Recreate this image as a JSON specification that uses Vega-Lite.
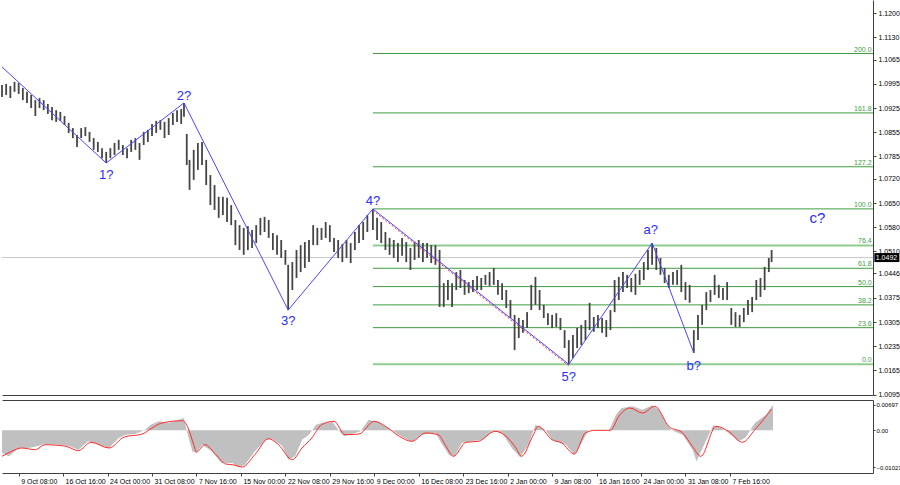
{
  "$schema": "https://vega.github.io/schema/vega-lite/v6.json",
  "padding": 0,
  "background": "white",
  "spacing": 2,
  "config": {
    "view": {"stroke": null},
    "font": "Liberation Sans",
    "axis": {"labelFont": "Liberation Sans", "labelFontSize": 7, "labelColor": "#000000", "domainColor": "#404040", "tickColor": "#404040", "grid": false}
  },
  "datasets": {
    "bars": [
      {"b":0,"l":1.0957,"h":1.0992},{"b":3,"l":1.0963,"h":1.0995},{"b":6,"l":1.0954,"h":1.0989},{"b":9,"l":1.0972,"h":1.1001},
      {"b":12,"l":1.0966,"h":1.0998},{"b":15,"l":1.0948,"h":1.0983},{"b":18,"l":1.0940,"h":1.0972},{"b":21,"l":1.0925,"h":1.0963},
      {"b":24,"l":1.0902,"h":1.0948},{"b":27,"l":1.0925,"h":1.0954},{"b":30,"l":1.0919,"h":1.0948},{"b":33,"l":1.0908,"h":1.0937},
      {"b":36,"l":1.0890,"h":1.0928},{"b":39,"l":1.0885,"h":1.0919},{"b":42,"l":1.0888,"h":1.0914},{"b":45,"l":1.0876,"h":1.0902},
      {"b":48,"l":1.0853,"h":1.0882},{"b":51,"l":1.0838,"h":1.0867},{"b":54,"l":1.0812,"h":1.0847},{"b":57,"l":1.0838,"h":1.0867},
      {"b":60,"l":1.0844,"h":1.0870},{"b":63,"l":1.0827,"h":1.0856},{"b":66,"l":1.0804,"h":1.0838},{"b":69,"l":1.0798,"h":1.0827},
      {"b":72,"l":1.0780,"h":1.0809},{"b":75,"l":1.0766,"h":1.0798},{"b":78,"l":1.0780,"h":1.0809},{"b":81,"l":1.0789,"h":1.0824},
      {"b":84,"l":1.0804,"h":1.0833},{"b":87,"l":1.0789,"h":1.0818},{"b":90,"l":1.0780,"h":1.0809},{"b":93,"l":1.0798,"h":1.0833},
      {"b":96,"l":1.0804,"h":1.0838},{"b":99,"l":1.0775,"h":1.0824},{"b":102,"l":1.0818,"h":1.0856},{"b":105,"l":1.0827,"h":1.0862},
      {"b":108,"l":1.0844,"h":1.0879},{"b":111,"l":1.0853,"h":1.0888},{"b":114,"l":1.0862,"h":1.0890},{"b":117,"l":1.0838,"h":1.0885},
      {"b":120,"l":1.0847,"h":1.0896},{"b":123,"l":1.0876,"h":1.0911},{"b":126,"l":1.0885,"h":1.0919},{"b":129,"l":1.0879,"h":1.0922},
      {"b":131,"l":1.0900,"h":1.0940},{"b":133,"l":1.0760,"h":1.0850},{"b":135,"l":1.0688,"h":1.0775},{"b":138,"l":1.0717,"h":1.0804},
      {"b":141,"l":1.0746,"h":1.0824},{"b":144,"l":1.0760,"h":1.0827},{"b":147,"l":1.0702,"h":1.0775},{"b":150,"l":1.0644,"h":1.0731},
      {"b":153,"l":1.0630,"h":1.0702},{"b":156,"l":1.0607,"h":1.0668},{"b":159,"l":1.0615,"h":1.0668},{"b":162,"l":1.0595,"h":1.0665},
      {"b":165,"l":1.0586,"h":1.0644},{"b":168,"l":1.0528,"h":1.0601},{"b":171,"l":1.0514,"h":1.0586},{"b":174,"l":1.0500,"h":1.0578},
      {"b":177,"l":1.0514,"h":1.0583},{"b":180,"l":1.0520,"h":1.0572},{"b":183,"l":1.0534,"h":1.0586},{"b":186,"l":1.0557,"h":1.0607},
      {"b":189,"l":1.0566,"h":1.0610},{"b":192,"l":1.0549,"h":1.0601},{"b":195,"l":1.0514,"h":1.0563},{"b":198,"l":1.0500,"h":1.0557},
      {"b":201,"l":1.0491,"h":1.0543},{"b":204,"l":1.0471,"h":1.0514},{"b":206,"l":1.0340,"h":1.0471},{"b":209,"l":1.0398,"h":1.0479},
      {"b":212,"l":1.0433,"h":1.0514},{"b":215,"l":1.0450,"h":1.0528},{"b":218,"l":1.0462,"h":1.0537},{"b":221,"l":1.0479,"h":1.0543},
      {"b":224,"l":1.0528,"h":1.0586},{"b":227,"l":1.0528,"h":1.0578},{"b":230,"l":1.0543,"h":1.0578},{"b":233,"l":1.0549,"h":1.0595},
      {"b":236,"l":1.0537,"h":1.0586},{"b":239,"l":1.0508,"h":1.0549},{"b":242,"l":1.0491,"h":1.0543},{"b":245,"l":1.0479,"h":1.0531},
      {"b":248,"l":1.0491,"h":1.0543},{"b":251,"l":1.0476,"h":1.0534},{"b":254,"l":1.0514,"h":1.0566},{"b":257,"l":1.0534,"h":1.0586},
      {"b":260,"l":1.0543,"h":1.0595},{"b":263,"l":1.0566,"h":1.0615},{"b":267,"l":1.0572,"h":1.0633},{"b":270,"l":1.0543,"h":1.0607},
      {"b":273,"l":1.0534,"h":1.0595},{"b":276,"l":1.0514,"h":1.0566},{"b":279,"l":1.0500,"h":1.0549},{"b":282,"l":1.0491,"h":1.0543},
      {"b":285,"l":1.0479,"h":1.0534},{"b":288,"l":1.0497,"h":1.0549},{"b":291,"l":1.0479,"h":1.0537},{"b":294,"l":1.0456,"h":1.0520},
      {"b":297,"l":1.0485,"h":1.0537},{"b":300,"l":1.0491,"h":1.0543},{"b":303,"l":1.0479,"h":1.0534},{"b":306,"l":1.0491,"h":1.0534},
      {"b":309,"l":1.0476,"h":1.0528},{"b":312,"l":1.0471,"h":1.0528},{"b":315,"l":1.0349,"h":1.0514},{"b":318,"l":1.0349,"h":1.0418},
      {"b":321,"l":1.0369,"h":1.0427},{"b":324,"l":1.0349,"h":1.0418},{"b":327,"l":1.0398,"h":1.0450},{"b":330,"l":1.0404,"h":1.0456},
      {"b":333,"l":1.0384,"h":1.0427},{"b":336,"l":1.0389,"h":1.0421},{"b":339,"l":1.0392,"h":1.0427},{"b":342,"l":1.0398,"h":1.0439},
      {"b":345,"l":1.0398,"h":1.0433},{"b":348,"l":1.0413,"h":1.0442},{"b":351,"l":1.0410,"h":1.0450},{"b":354,"l":1.0413,"h":1.0462},
      {"b":357,"l":1.0384,"h":1.0427},{"b":360,"l":1.0369,"h":1.0418},{"b":363,"l":1.0346,"h":1.0398},{"b":366,"l":1.0317,"h":1.0369},
      {"b":369,"l":1.0224,"h":1.0326},{"b":372,"l":1.0259,"h":1.0317},{"b":375,"l":1.0274,"h":1.0311},{"b":378,"l":1.0288,"h":1.0334},
      {"b":381,"l":1.0340,"h":1.0413},{"b":384,"l":1.0355,"h":1.0436},{"b":387,"l":1.0340,"h":1.0398},{"b":390,"l":1.0317,"h":1.0355},
      {"b":393,"l":1.0297,"h":1.0331},{"b":396,"l":1.0288,"h":1.0326},{"b":399,"l":1.0291,"h":1.0331},{"b":402,"l":1.0282,"h":1.0317},
      {"b":405,"l":1.0230,"h":1.0282},{"b":408,"l":1.0183,"h":1.0253},{"b":411,"l":1.0201,"h":1.0268},{"b":414,"l":1.0230,"h":1.0288},
      {"b":417,"l":1.0239,"h":1.0297},{"b":420,"l":1.0253,"h":1.0311},{"b":423,"l":1.0282,"h":1.0361},{"b":426,"l":1.0277,"h":1.0320},
      {"b":429,"l":1.0288,"h":1.0326},{"b":432,"l":1.0274,"h":1.0317},{"b":435,"l":1.0262,"h":1.0311},{"b":438,"l":1.0282,"h":1.0340},
      {"b":441,"l":1.0334,"h":1.0427},{"b":444,"l":1.0369,"h":1.0436},{"b":447,"l":1.0392,"h":1.0450},{"b":450,"l":1.0404,"h":1.0442},
      {"b":453,"l":1.0392,"h":1.0433},{"b":456,"l":1.0384,"h":1.0445},{"b":459,"l":1.0413,"h":1.0456},{"b":462,"l":1.0427,"h":1.0479},
      {"b":465,"l":1.0456,"h":1.0514},{"b":468,"l":1.0471,"h":1.0534},{"b":471,"l":1.0456,"h":1.0520},{"b":474,"l":1.0442,"h":1.0491},
      {"b":477,"l":1.0418,"h":1.0462},{"b":480,"l":1.0404,"h":1.0442},{"b":483,"l":1.0413,"h":1.0450},{"b":486,"l":1.0413,"h":1.0456},
      {"b":489,"l":1.0392,"h":1.0471},{"b":492,"l":1.0369,"h":1.0421},{"b":495,"l":1.0361,"h":1.0413},{"b":498,"l":1.0216,"h":1.0282},
      {"b":501,"l":1.0253,"h":1.0326},{"b":504,"l":1.0297,"h":1.0355},{"b":507,"l":1.0340,"h":1.0392},{"b":510,"l":1.0363,"h":1.0398},
      {"b":513,"l":1.0384,"h":1.0442},{"b":516,"l":1.0375,"h":1.0413},{"b":519,"l":1.0369,"h":1.0404},{"b":522,"l":1.0369,"h":1.0421},
      {"b":525,"l":1.0297,"h":1.0346},{"b":528,"l":1.0291,"h":1.0334},{"b":531,"l":1.0291,"h":1.0326},{"b":534,"l":1.0305,"h":1.0346},
      {"b":537,"l":1.0326,"h":1.0369},{"b":540,"l":1.0334,"h":1.0378},{"b":543,"l":1.0369,"h":1.0427},{"b":546,"l":1.0378,"h":1.0433},
      {"b":549,"l":1.0398,"h":1.0465},{"b":552,"l":1.0450,"h":1.0491},{"b":554,"l":1.0479,"h":1.0514}
    ],
    "waves": [
      {"b":0,"p":1.1044},{"b":75,"p":1.0766},{"b":131,"p":1.0940},{"b":206,"p":1.0340},
      {"b":267,"p":1.0633},{"b":408,"p":1.0183},{"b":468,"p":1.0534},{"b":498,"p":1.0216}
    ],
    "wavelabels": [
      {"t":"1?","b":75,"p":1.0731},{"t":"2?","b":131,"p":1.0960},{"t":"3?","b":206,"p":1.0308},{"t":"4?","b":267,"p":1.0656},
      {"t":"5?","b":408,"p":1.0146},{"t":"a?","b":467,"p":1.0572},{"t":"b?","b":498,"p":1.0178},{"t":"c?","b":587,"p":1.0607}
    ],
    "fib": [
      {"lvl":"0.0","p":1.0183},{"lvl":"23.6","p":1.0289},{"lvl":"38.2","p":1.0355},{"lvl":"50.0","p":1.0408},
      {"lvl":"61.8","p":1.0461},{"lvl":"76.4","p":1.0527},{"lvl":"100.0","p":1.0633},{"lvl":"127.2","p":1.0755},
      {"lvl":"161.8","p":1.0911},{"lvl":"200.0","p":1.1083}
    ],
    "hist": [
      {"b":0,"m":-0.00625},{"b":5,"m":-0.00716},{"b":12,"m":-0.00487},{"b":19,"m":-0.00487},{"b":26,"m":-0.00432},{"b":31,"m":-0.00377},
      {"b":41,"m":-0.00396},{"b":48,"m":-0.00432},{"b":55,"m":-0.00534},{"b":62,"m":-0.00303},{"b":70,"m":-0.00396},{"b":77,"m":-0.00487},
      {"b":84,"m":-0.00212},{"b":89,"m":-0.00121},{"b":96,"m":-0.00102},{"b":103,"m":0.00017},{"b":107,"m":0.00154},{"b":113,"m":0.00248},
      {"b":120,"m":0.00201},{"b":125,"m":0.00264},{"b":131,"m":0.00338},{"b":133,"m":-0.00019},{"b":137,"m":-0.00578},{"b":140,"m":-0.00625},
      {"b":144,"m":-0.00396},{"b":151,"m":-0.00578},{"b":158,"m":-0.00900},{"b":166,"m":-0.00900},{"b":170,"m":-0.01023},{"b":175,"m":-0.00947},
      {"b":182,"m":-0.00578},{"b":190,"m":-0.00259},{"b":194,"m":-0.00231},{"b":202,"m":-0.00440},{"b":206,"m":-0.00809},{"b":211,"m":-0.00716},
      {"b":216,"m":-0.00259},{"b":221,"m":-0.00121},{"b":226,"m":0.00154},{"b":230,"m":0.00201},{"b":238,"m":0.00228},{"b":242,"m":0.00017},
      {"b":246,"m":-0.00165},{"b":252,"m":-0.00102},{"b":258,"m":-0.00028},{"b":264,"m":0.00292},{"b":271,"m":0.00228},{"b":278,"m":0.00063},
      {"b":286,"m":-0.00138},{"b":295,"m":-0.00322},{"b":302,"m":-0.00121},{"b":312,"m":-0.00074},{"b":317,"m":-0.00396},{"b":322,"m":-0.00688},
      {"b":326,"m":-0.00716},{"b":331,"m":-0.00350},{"b":338,"m":-0.00303},{"b":346,"m":-0.00259},{"b":353,"m":-0.00028},{"b":360,"m":-0.00074},
      {"b":367,"m":-0.00487},{"b":373,"m":-0.00743},{"b":379,"m":-0.00396},{"b":384,"m":0.00154},{"b":391,"m":0.00017},{"b":396,"m":-0.00259},
      {"b":406,"m":-0.00396},{"b":412,"m":-0.00671},{"b":418,"m":-0.00303},{"b":422,"m":0.0},{"b":437,"m":0.0},{"b":442,"m":0.00429},
      {"b":446,"m":0.00614},{"b":454,"m":0.00660},{"b":461,"m":0.00567},{"b":468,"m":0.00688},{"b":473,"m":0.00567},{"b":478,"m":0.00201},
      {"b":482,"m":0.0},{"b":490,"m":-0.00121},{"b":497,"m":-0.00534},{"b":500,"m":-0.00853},{"b":506,"m":-0.00350},{"b":512,"m":0.00138},
      {"b":518,"m":0.00063},{"b":526,"m":-0.00165},{"b":530,"m":-0.00303},{"b":535,"m":-0.00212},{"b":542,"m":0.00201},{"b":550,"m":0.00429},
      {"b":555,"m":0.00697}
    ],
    "sig": [
      {"b":0,"s":-0.00716},{"b":7,"s":-0.00578},{"b":14,"s":-0.00487},{"b":24,"s":-0.00534},{"b":31,"s":-0.00396},{"b":46,"s":-0.00440},
      {"b":55,"s":-0.00561},{"b":64,"s":-0.00330},{"b":77,"s":-0.00487},{"b":88,"s":-0.00184},{"b":101,"s":-0.00102},{"b":108,"s":0.00063},
      {"b":115,"s":0.00201},{"b":130,"s":0.00264},{"b":134,"s":0.00063},{"b":138,"s":-0.00396},{"b":140,"s":-0.00597},{"b":146,"s":-0.00396},
      {"b":154,"s":-0.00671},{"b":161,"s":-0.00927},{"b":166,"s":-0.00947},{"b":173,"s":-0.01010},{"b":182,"s":-0.00671},{"b":192,"s":-0.00231},
      {"b":199,"s":-0.00396},{"b":209,"s":-0.00809},{"b":216,"s":-0.00487},{"b":223,"s":-0.00212},{"b":230,"s":0.00154},{"b":239,"s":0.00248},
      {"b":247,"s":-0.00121},{"b":257,"s":-0.00102},{"b":268,"s":0.00248},{"b":276,"s":0.00110},{"b":286,"s":-0.00165},{"b":295,"s":-0.00303},
      {"b":305,"s":-0.00074},{"b":314,"s":-0.00121},{"b":319,"s":-0.00396},{"b":325,"s":-0.00716},{"b":334,"s":-0.00330},{"b":343,"s":-0.00303},
      {"b":355,"s":-0.00028},{"b":362,"s":-0.00138},{"b":370,"s":-0.00487},{"b":374,"s":-0.00716},{"b":382,"s":-0.00165},{"b":386,"s":0.00110},
      {"b":396,"s":-0.00259},{"b":403,"s":-0.00350},{"b":412,"s":-0.00652},{"b":420,"s":-0.00074},{"b":427,"s":0.0},{"b":438,"s":0.0},
      {"b":444,"s":0.00385},{"b":452,"s":0.00614},{"b":461,"s":0.00476},{"b":470,"s":0.00660},{"b":480,"s":0.00110},{"b":490,"s":-0.00074},
      {"b":497,"s":-0.00440},{"b":503,"s":-0.00716},{"b":514,"s":0.00110},{"b":523,"s":-0.00028},{"b":533,"s":-0.00330},{"b":542,"s":0.00017},
      {"b":554,"s":0.00586}
    ]
  },
  "vconcat": [
    {
      "width": 871,
      "height": 395,
      "encoding": {
        "x": {"type": "quantitative", "scale": {"domain": [0, 627], "nice": false, "zero": false},
              "axis": {"orient": "bottom", "values": [0], "labels": false, "ticks": false, "domain": true, "domainColor": "#404040", "domainWidth": 1, "title": null}},
        "y": {"type": "quantitative", "scale": {"domain": [1.0094, 1.1238], "nice": false, "zero": false},
              "axis": {"orient": "right", "values": [1.12, 1.113, 1.1065, 1.0995, 1.0925, 1.0855, 1.0785, 1.072, 1.065, 1.058, 1.051, 1.0446, 1.0375, 1.0305, 1.0235, 1.0165, 1.0095],
                       "format": ".4f", "tickSize": 3, "labelPadding": 2, "labelOverlap": false, "labelBound": false, "labelFlush": false, "title": null}}
      },
      "layer": [
        {
          "data": {"values": [{"p": 1.0492}]},
          "mark": {"type": "rule", "color": "#c8c8c8", "strokeWidth": 1},
          "encoding": {"y": {"field": "p"}}
        },
        {
          "data": {"name": "fib"},
          "mark": {"type": "rule"},
          "encoding": {
            "x": {"datum": 267},
            "x2": {"datum": 627},
            "y": {"field": "p"},
            "color": {"condition": {"test": "datum.lvl === '76.4' || datum.lvl === '0.0'", "value": "#8fcc8f"}, "value": "#3f9c3f"},
            "strokeWidth": {"condition": {"test": "datum.lvl === '76.4' || datum.lvl === '0.0'", "value": 2}, "value": 1}
          }
        },
        {
          "data": {"name": "fib"},
          "mark": {"type": "text", "align": "right", "baseline": "bottom", "dy": -1, "fontSize": 7, "color": "#3f9c3f", "font": "Liberation Sans"},
          "encoding": {
            "x": {"datum": 626},
            "y": {"field": "p"},
            "text": {"field": "lvl"}
          }
        },
        {
          "data": {"name": "bars"},
          "mark": {"type": "rule", "color": "#454545", "strokeWidth": 1.8},
          "encoding": {
            "x": {"field": "b"},
            "y": {"field": "l"},
            "y2": {"field": "h"}
          }
        },
        {
          "data": {"name": "waves"},
          "transform": [{"filter": "datum.b >= 267 && datum.b <= 408"}],
          "mark": {"type": "line", "color": "#ff3030", "strokeWidth": 1, "strokeDash": [2, 2], "yOffset": 1.5},
          "encoding": {"x": {"field": "b"}, "y": {"field": "p"}}
        },
        {
          "data": {"name": "waves"},
          "mark": {"type": "line", "color": "#4646ff", "strokeWidth": 1},
          "encoding": {"x": {"field": "b"}, "y": {"field": "p"}}
        },
        {
          "data": {"name": "wavelabels"},
          "mark": {"type": "text", "align": "center", "baseline": "middle", "color": "#2b2bff", "font": "Liberation Sans"},
          "encoding": {
            "x": {"field": "b"},
            "y": {"field": "p"},
            "text": {"field": "t"},
            "size": {"condition": {"test": "datum.t === 'c?'", "value": 15}, "value": 13}
          }
        },
        {
          "data": {"values": [{"p": 1.0492}]},
          "mark": {"type": "rect", "color": "#000000", "clip": false},
          "encoding": {
            "x": {"datum": 628},
            "x2": {"datum": 646},
            "y": {"datum": 1.0505},
            "y2": {"datum": 1.0479}
          }
        },
        {
          "data": {"values": [{"p": 1.0492}]},
          "mark": {"type": "text", "color": "#ffffff", "align": "left", "baseline": "middle", "fontSize": 7, "clip": false, "font": "Liberation Sans"},
          "encoding": {
            "x": {"datum": 629},
            "y": {"field": "p"},
            "text": {"field": "p", "type": "quantitative", "format": ".4f"}
          }
        }
      ]
    },
    {
      "width": 871,
      "height": 73,
      "resolve": {"axis": {"x": "independent"}},
      "layer": [
        {
          "data": {"name": "hist"},
          "mark": {"type": "area", "color": "#c0c0c0", "interpolate": "linear"},
          "encoding": {
            "x": {"field": "b", "type": "quantitative", "scale": {"domain": [0, 627], "nice": false, "zero": false},
                  "axis": {"orient": "bottom", "values": [12, 44, 76, 108, 140, 172, 204, 236, 268, 300, 332, 364, 396, 428, 460, 492, 524],
                           "labelExpr": "['9 Oct 08:00','16 Oct 16:00','24 Oct 00:00','31 Oct 08:00','7 Nov 16:00','15 Nov 00:00','22 Nov 08:00','29 Nov 16:00','9 Dec 00:00','16 Dec 08:00','23 Dec 16:00','2 Jan 00:00','9 Jan 08:00','16 Jan 16:00','24 Jan 00:00','31 Jan 08:00','7 Feb 16:00'][(datum.value-12)/32]",
                           "labelAlign": "left", "labelBaseline": "top", "labelPadding": 1, "labelOffset": 2, "tickSize": 3, "labelOverlap": false, "labelBound": false, "labelFlush": false, "title": null}},
            "y": {"field": "m", "type": "quantitative", "scale": {"domain": [-0.01175, 0.00834], "nice": false, "zero": false},
                  "axis": {"orient": "right", "values": [0.00697, 0, -0.01023], "labelExpr": "datum.value == 0 ? '0.00' : format(datum.value, '.5f')",
                           "labelFontSize": 6, "tickSize": 2, "labelPadding": 1, "labelOverlap": false, "labelBound": false, "labelFlush": false, "title": null}},
            "y2": {"datum": 0}
          }
        },
        {
          "data": {"name": "sig"},
          "mark": {"type": "line", "color": "#ff2a2a", "strokeWidth": 1, "interpolate": "monotone"},
          "encoding": {
            "x": {"field": "b", "type": "quantitative", "scale": {"domain": [0, 627], "nice": false, "zero": false},
                  "axis": {"orient": "top", "values": [0], "labels": false, "ticks": false, "domain": true, "domainColor": "#404040", "title": null}},
            "y": {"field": "s", "type": "quantitative", "scale": {"domain": [-0.01175, 0.00834], "nice": false, "zero": false},
                  "axis": {"orient": "right", "values": [0.00697, 0, -0.01023], "labelExpr": "datum.value == 0 ? '0.00' : format(datum.value, '.5f')",
                           "labelFontSize": 6, "tickSize": 2, "labelPadding": 1, "labelOverlap": false, "labelBound": false, "labelFlush": false, "title": null}}
          }
        }
      ]
    }
  ]
}
